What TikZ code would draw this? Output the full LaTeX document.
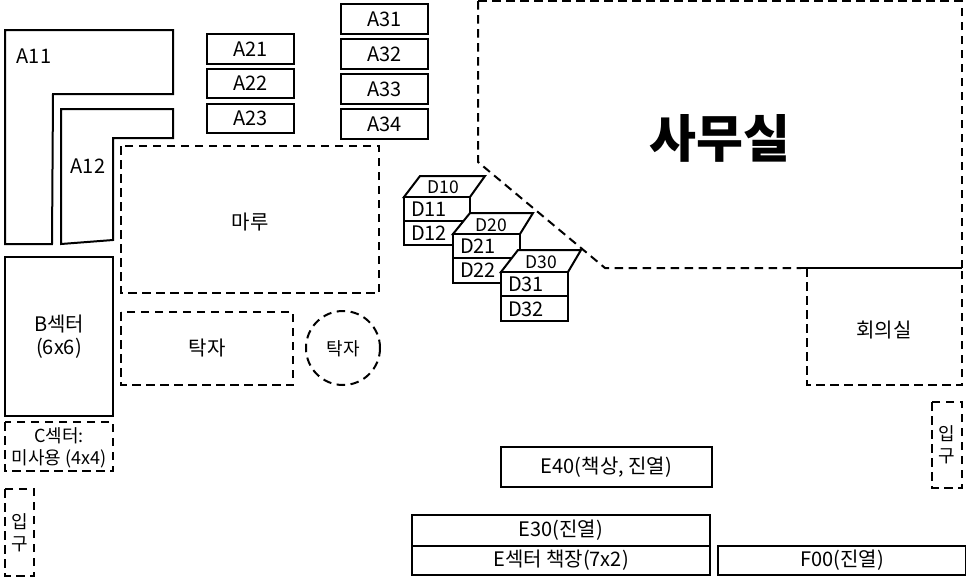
\documentclass[tikz,border=0pt]{standalone}
\usepackage{fontspec}
\setmainfont{Noto Sans CJK KR}
\tikzset{
  x=1pt,y=-1pt,
  solidbox/.style={draw=black,line width=2pt,fill=white,line join=miter},
  dashbox/.style={draw=black,line width=2pt,dash pattern=on 8.5pt off 5.5pt},
  lab/.style={inner sep=0pt,font=\fontsize{20}{23}\selectfont,align=center,text=black},
  labs/.style={inner sep=0pt,font=\fontsize{18}{22}\selectfont,align=center,text=black},
  labt/.style={inner sep=0pt,font=\fontsize{17.5}{20}\selectfont,align=center,text=black},
}
\newcommand{\rectbox}[7]{% label style, x1,y1,x2,y2, box style, text
  \draw[#6] (#2,#3) rectangle (#4,#5);
  \node[#1] at ({(#2+#4)/2},{(#3+#5)/2}) {#7};
}
\begin{document}
\begin{tikzpicture}
\useasboundingbox (0,0) rectangle (966,584);
\fill[white] (0,0) rectangle (966,584);
% A11, A12
\draw[solidbox] (5,30) -- (173,30) -- (173,94) -- (53,94) -- (52,244) -- (5,244) -- cycle;
\node[lab] (a11) at (34,56) {A11};
\draw[solidbox] (61,109) -- (173,109) -- (173,138) -- (113,138) -- (113,240) -- (61,244) -- cycle;
\node[lab] (a12) at (88,166) {A12};
% A2x, A3x
\rectbox{lab}{207}{34}{294}{64}{solidbox}{A21}
\rectbox{lab}{207}{69}{294}{98}{solidbox}{A22}
\rectbox{lab}{207}{104}{294}{133}{solidbox}{A23}
\rectbox{lab}{341}{4}{428}{34}{solidbox}{A31}
\rectbox{lab}{341}{39}{428}{69}{solidbox}{A32}
\rectbox{lab}{341}{74}{428}{104}{solidbox}{A33}
\rectbox{lab}{341}{109}{428}{139}{solidbox}{A34}
% dashed zones
\draw[dashbox] (121,146) rectangle (379,293);
\node[lab] (maru) at (250,222) {마루};
\draw[dashbox] (121,312) rectangle (293,385);
\node[lab] (table) at (207,348) {탁자};
\draw[dashbox] (343,348) circle[radius=37];
\node[labs] (round) at (343,349) {탁자};
% B, C
\rectbox{lab}{5}{257}{113}{416}{solidbox}{B섹터\\(6x6)}
\draw[dashbox] (5,422) rectangle (113,471);
\node[labs] (csec) at (59,448) {C섹터:\\미사용 (4x4)};
\rectbox{labs}{5}{489}{34}{576}{dashbox}{입\\구}
% office outline
\draw[dashbox] (478,1) -- (478,162) -- (605,268) -- (801,268);
\draw[dashbox] (478,1) -- (966,1);
\draw[black,line width=2pt] (801,268) -- (962,268);
\draw[dashbox] (962,268) -- (962,1);
\node[inner sep=0pt,font=\fontsize{51}{56}\bfseries\selectfont] (office) at (720,138) {사무실};
% meeting room
\draw[dashbox] (807,268) -- (807,385) -- (962,385) -- (962,268);
\node[lab] (meet) at (884,330) {회의실};
\rectbox{labs}{932}{402}{962}{488}{dashbox}{입\\구}
% D stacks
\draw[solidbox] (404,197) -- (420,176) -- (485,176) -- (470,197) -- cycle;
\node[labt] (d10) at (443,187) {D10};
\draw[solidbox] (404,197) rectangle (470,221);
\draw[solidbox] (404,221) rectangle (470,245);
\node[lab] (d11) at (429,209) {D11};
\node[lab] (d12) at (429,233) {D12};
\draw[solidbox] (453,234) -- (470,213) -- (533,213) -- (520,234) -- cycle;
\node[labt] (d20) at (491,225) {D20};
\draw[solidbox] (453,234) rectangle (520,258);
\draw[solidbox] (453,258) rectangle (520,283);
\node[lab] (d21) at (478,246) {D21};
\node[lab] (d22) at (478,270) {D22};
\draw[solidbox] (501,272) -- (518,250) -- (581,250) -- (568,272) -- cycle;
\node[labt] (d30) at (541,262) {D30};
\draw[solidbox] (501,272) rectangle (568,296);
\draw[solidbox] (501,296) rectangle (568,321);
\node[lab] (d31) at (526,284) {D31};
\node[lab] (d32) at (526,309) {D32};
% E, F
\rectbox{lab}{501}{447}{712}{487}{solidbox}{E40(책상, 진열)}
\rectbox{lab}{412}{515}{710}{546}{solidbox}{E30(진열)}
\rectbox{lab}{412}{546}{710}{575}{solidbox}{E섹터 책장(7x2)}
\rectbox{lab}{718}{546}{966}{575}{solidbox}{F00(진열)}
\end{tikzpicture}
\end{document}
